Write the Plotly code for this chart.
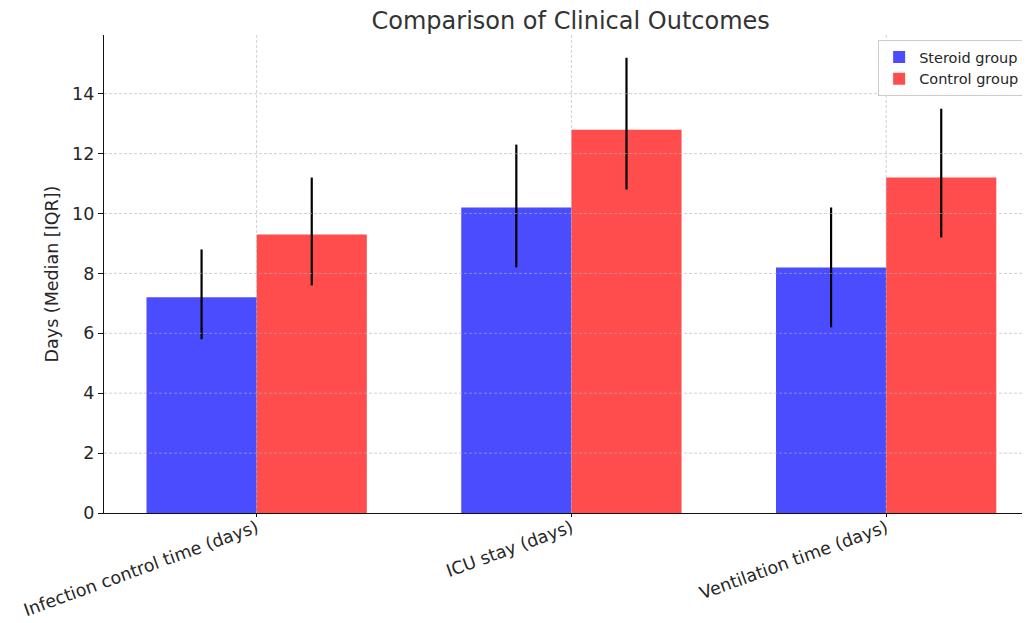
import plotly.graph_objects as go

categories = ["Infection control time (days)", "ICU stay (days)", "Ventilation time (days)"]
steroid_median = [7.2, 10.2, 8.2]
steroid_low = [5.8, 8.2, 6.2]
steroid_high = [8.8, 12.3, 10.2]
control_median = [9.3, 12.8, 11.2]
control_low = [7.6, 10.8, 9.2]
control_high = [11.2, 15.2, 13.5]
y_ticks = [0, 2, 4, 6, 8, 10, 12, 14]

bar_w = 0.35
idx = list(range(len(categories)))
FONT = "DejaVu Sans, Verdana, sans-serif"
TXT = "#262626"

fig = go.Figure()
fig.add_trace(go.Bar(
    name="Steroid group",
    x=[i - bar_w / 2 for i in idx], y=steroid_median, width=bar_w,
    marker=dict(color="rgba(0,0,255,0.7)", line=dict(width=0)),
    error_y=dict(type="data", symmetric=False,
                 array=[h - m for h, m in zip(steroid_high, steroid_median)],
                 arrayminus=[m - l for m, l in zip(steroid_median, steroid_low)],
                 color="black", thickness=2.2, width=0),
))
fig.add_trace(go.Bar(
    name="Control group",
    x=[i + bar_w / 2 for i in idx], y=control_median, width=bar_w,
    marker=dict(color="rgba(255,0,0,0.7)", line=dict(width=0)),
    error_y=dict(type="data", symmetric=False,
                 array=[h - m for h, m in zip(control_high, control_median)],
                 arrayminus=[m - l for m, l in zip(control_median, control_low)],
                 color="black", thickness=2.2, width=0),
))

# grid drawn above bars (as in reference)
grid_color = "rgba(176,176,176,0.6)"
for v in y_ticks[1:]:
    fig.add_shape(type="line", xref="paper", yref="y", x0=0, x1=1, y0=v, y1=v,
                  line=dict(color=grid_color, width=1, dash="3px,2px"), layer="above")
for i in idx:
    fig.add_shape(type="line", xref="x", yref="paper", x0=i, x1=i, y0=0, y1=1,
                  line=dict(color=grid_color, width=1, dash="3px,2px"), layer="above")

fig.update_layout(
    width=1022, height=615,
    margin=dict(l=96, r=0, t=27, b=110, autoexpand=False),
    paper_bgcolor="white", plot_bgcolor="white",
    font=dict(family=FONT, size=17.5, color=TXT),
    title=dict(text="Comparison of Clinical Outcomes", x=0.504, xanchor="center",
               y=0.98, yanchor="middle", xref="paper",
               font=dict(family=FONT, size=24, color="#333333")),
    barmode="overlay",
    showlegend=True,
    legend=dict(x=0.836, y=0.9895, xanchor="left", yanchor="top",
                bgcolor="rgba(255,255,255,0.8)", bordercolor="#cccccc", borderwidth=1,
                font=dict(family=FONT, size=14.5, color=TXT),
                tracegroupgap=0, itemwidth=30),
    xaxis=dict(range=[-0.485, 2.457], tickmode="array", tickvals=idx, ticktext=categories,
               tickangle=-20, showgrid=False, zeroline=False,
               showline=True, linecolor="#111111", linewidth=1.2,
               ticks="outside", ticklen=3, tickcolor="#111111",
               ticklabelstandoff=-6,
               tickfont=dict(family=FONT, size=17.5, color=TXT)),
    yaxis=dict(range=[0, 15.96], tickmode="array", tickvals=y_ticks,
               showgrid=False, zeroline=False,
               showline=True, linecolor="#111111", linewidth=1.2,
               ticks="outside", ticklen=5, tickcolor="#111111",
               tickfont=dict(family=FONT, size=17.5, color=TXT),
               title=dict(text="Days (Median [IQR])", standoff=8,
                          font=dict(family=FONT, size=17.5, color=TXT))),
)

fig.write_html("out.html")
